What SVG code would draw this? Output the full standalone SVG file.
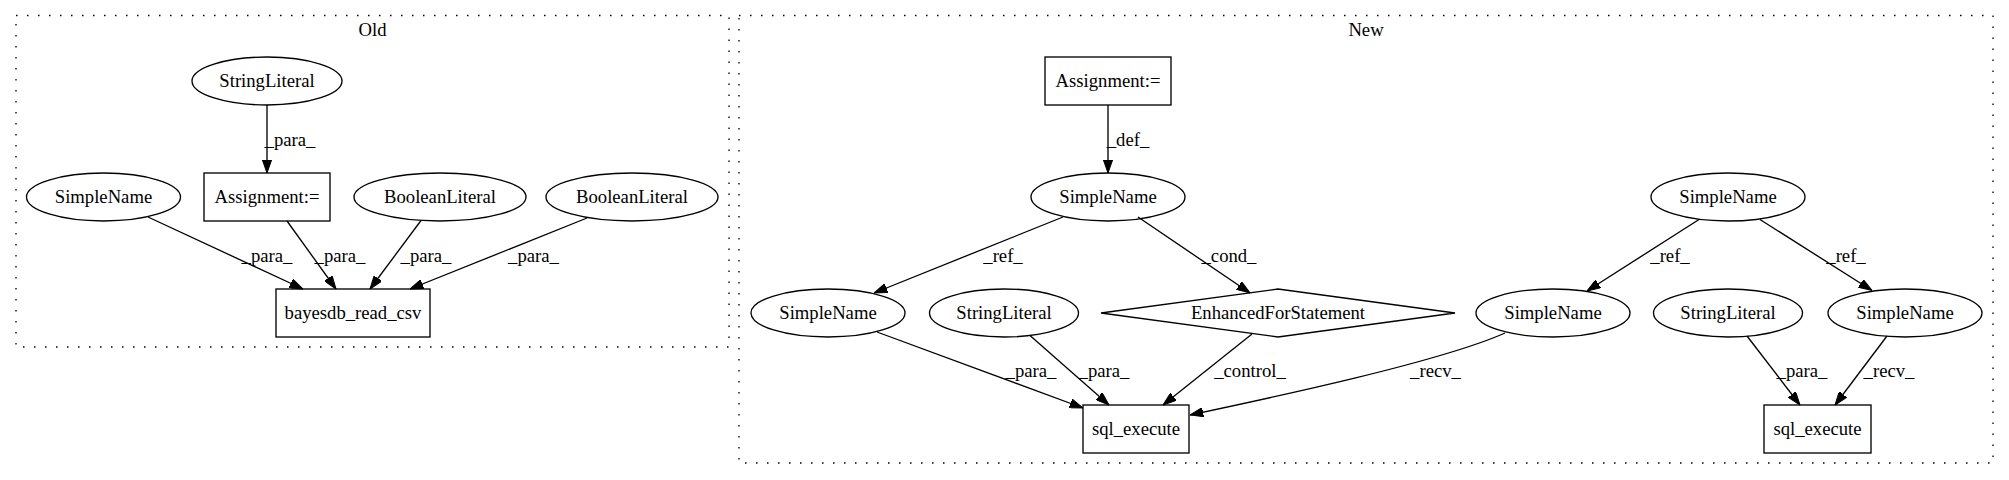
<svg xmlns="http://www.w3.org/2000/svg" width="2009" height="480" viewBox="0 0 2009 480">
<style>
text{font-family:'Liberation Serif','Times New Roman','DejaVu Serif',serif;font-size:18.67px;fill:#000;text-anchor:middle}
.n{fill:none;stroke:#000;stroke-width:1.33}
.c{fill:none;stroke:#000;stroke-width:1.33;stroke-dasharray:1.5 9.5}
.e{fill:none;stroke:#000;stroke-width:1.33;marker-end:url(#arr)}
</style>
<defs>
<marker id="arr" viewBox="0 0 13.3 9.4" refX="13.3" refY="4.7" markerWidth="13.3" markerHeight="9.4" markerUnits="userSpaceOnUse" orient="auto">
<path d="M0,0 L13.3,4.7 L0,9.4 z" fill="#000" stroke="#000" stroke-width="1"/>
</marker>
</defs>
<rect width="2009" height="480" fill="#fff"/>
<g font-family="Liberation Serif, Times New Roman, serif">
<g id="cluster_old">
<rect class="c" x="16" y="15.5" width="713" height="331.5"/>
<text x="372.5" y="36">Old</text>
</g>
<g id="cluster_new">
<rect class="c" x="739" y="15.5" width="1254" height="447.5"/>
<text x="1366" y="36">New</text>
</g>
<g id="edges">
<path class="e" d="M267,105 L267,173"/>
<text x="290" y="146">_para_</text>
<path class="e" d="M148,217 L303,289"/>
<text x="267" y="262">_para_</text>
<path class="e" d="M287,221 L336,289"/>
<text x="340" y="262">_para_</text>
<path class="e" d="M421,220.5 L370,289"/>
<text x="426" y="262">_para_</text>
<path class="e" d="M587,218 L410,289"/>
<text x="533.5" y="262">_para_</text>
<path class="e" d="M1108,105 L1108,173"/>
<text x="1128" y="146">_def_</text>
<path class="e" d="M1063,217 L874,293"/>
<text x="1003" y="262">_ref_</text>
<path class="e" d="M1138,217 L1250,293"/>
<text x="1229" y="262">_cond_</text>
<path class="e" d="M877,332 L1083,408"/>
<text x="1031" y="377">_para_</text>
<path class="e" d="M1030,335.5 L1109,405"/>
<text x="1104" y="377">_para_</text>
<path class="e" d="M1252,334 L1163,405"/>
<text x="1250" y="377">_control_</text>
<path class="e" d="M1505,333 C1440,362 1270,398 1190,415"/>
<text x="1435.5" y="377">_recv_</text>
<path class="e" d="M1699,219.5 L1587,291"/>
<text x="1670" y="262">_ref_</text>
<path class="e" d="M1760,219.5 L1872,290.5"/>
<text x="1846" y="262">_ref_</text>
<path class="e" d="M1747,336 L1800,405"/>
<text x="1802" y="377">_para_</text>
<path class="e" d="M1887,336 L1835,405"/>
<text x="1889" y="377">_recv_</text>
</g>
<g id="old_stringliteral"><ellipse class="n" cx="267" cy="81" rx="75" ry="24"/><text x="267" y="87">StringLiteral</text></g>
<g id="old_simplename"><ellipse class="n" cx="103.5" cy="197" rx="77" ry="24"/><text x="103.5" y="203">SimpleName</text></g>
<g id="old_assignment"><rect class="n" x="204" y="173" width="126" height="48"/><text x="267" y="203">Assignment:=</text></g>
<g id="old_booleanliteral1"><ellipse class="n" cx="440" cy="197" rx="86" ry="24"/><text x="440" y="203">BooleanLiteral</text></g>
<g id="old_booleanliteral2"><ellipse class="n" cx="632" cy="197" rx="86" ry="24"/><text x="632" y="203">BooleanLiteral</text></g>
<g id="old_bayesdb_read_csv"><rect class="n" x="276" y="289" width="154" height="48"/><text x="353" y="319">bayesdb_read_csv</text></g>
<g id="new_assignment"><rect class="n" x="1045" y="57" width="126" height="48"/><text x="1108" y="87">Assignment:=</text></g>
<g id="new_simplename0"><ellipse class="n" cx="1108" cy="197" rx="77" ry="24"/><text x="1108" y="203">SimpleName</text></g>
<g id="new_simplename1"><ellipse class="n" cx="828" cy="313" rx="77" ry="24"/><text x="828" y="319">SimpleName</text></g>
<g id="new_stringliteral1"><ellipse class="n" cx="1004" cy="313" rx="74.5" ry="24"/><text x="1004" y="319">StringLiteral</text></g>
<g id="new_enhancedfor"><polygon class="n" points="1101,313 1278,289 1455,313 1278,337"/><text x="1278" y="319">EnhancedForStatement</text></g>
<g id="new_sql_execute1"><rect class="n" x="1083" y="405" width="106" height="48"/><text x="1136" y="435">sql_execute</text></g>
<g id="new_simplename2"><ellipse class="n" cx="1728" cy="197" rx="77" ry="24"/><text x="1728" y="203">SimpleName</text></g>
<g id="new_simplename3"><ellipse class="n" cx="1553" cy="313" rx="77" ry="24"/><text x="1553" y="319">SimpleName</text></g>
<g id="new_stringliteral2"><ellipse class="n" cx="1728" cy="313" rx="74.5" ry="24"/><text x="1728" y="319">StringLiteral</text></g>
<g id="new_simplename4"><ellipse class="n" cx="1905" cy="313" rx="77" ry="24"/><text x="1905" y="319">SimpleName</text></g>
<g id="new_sql_execute2"><rect class="n" x="1764" y="405" width="107" height="48"/><text x="1817.5" y="435">sql_execute</text></g>
</g>
</svg>
